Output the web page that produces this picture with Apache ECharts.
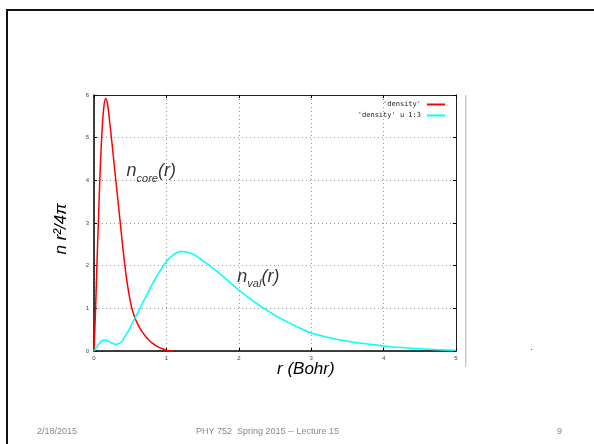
<!DOCTYPE html>
<html>
<head>
<meta charset="utf-8">
<script src="https://cdn.jsdelivr.net/npm/echarts@6/dist/echarts.min.js"></script>
<style>
  html, body { margin: 0; padding: 0; background: #fff; }
  #chart { width: 594px; height: 444px; }
</style>
</head>
<body>
<div id="chart"></div>
<script>
// r (Bohr) and n r^2/4pi for the core density
var rCore = [0, 0.02, 0.04, 0.06, 0.08, 0.10, 0.12, 0.14, 0.16, 0.18, 0.20, 0.22, 0.25, 0.28, 0.32, 0.36, 0.40, 0.44, 0.48, 0.52, 0.56, 0.60, 0.65, 0.70, 0.75, 0.80, 0.87, 0.95, 1.0, 1.1];
var nCore = [0, 0.9, 2.0, 3.0, 4.0, 4.8, 5.4, 5.78, 5.92, 5.85, 5.62, 5.32, 4.85, 4.35, 3.7, 3.05, 2.4, 1.82, 1.36, 1.02, 0.8, 0.64, 0.49, 0.37, 0.27, 0.19, 0.11, 0.05, 0.02, 0];
// valence density
var rVal = [0, 0.05, 0.1, 0.15, 0.2, 0.25, 0.3, 0.35, 0.4, 0.45, 0.5, 0.55, 0.6, 0.65, 0.7, 0.8, 0.9, 1.0, 1.1, 1.2, 1.3, 1.4, 1.5, 1.6, 1.8, 2.0, 2.2, 2.4, 2.6, 2.8, 3.0, 3.25, 3.5, 3.75, 4.0, 4.25, 4.5, 4.75, 5.0];
var nVal = [0, 0.12, 0.23, 0.26, 0.23, 0.18, 0.16, 0.18, 0.26, 0.4, 0.55, 0.72, 0.88, 1.05, 1.22, 1.55, 1.85, 2.1, 2.26, 2.33, 2.31, 2.24, 2.12, 2.0, 1.72, 1.43, 1.17, 0.94, 0.74, 0.57, 0.42, 0.31, 0.23, 0.17, 0.12, 0.08, 0.05, 0.03, 0.02];
var xTicks = [0, 1, 2, 3, 4, 5];
var yTicks = [0, 1, 2, 3, 4, 5, 6];
var legendNames = ["'density'", "'density' u 1:3"];

function pairs(xs, ys) {
    var out = [];
    for (var i = 0; i < xs.length; i++) out.push([xs[i], ys[i]]);
    return out;
}

var tickFont = { fontSize: 6, color: '#444', fontFamily: 'Liberation Sans' };
var gridLine = { show: true, lineStyle: { color: '#999', type: [1, 3], width: 1 } };

var myChart = echarts.init(document.getElementById('chart'));
var option = {
    animation: false,
    backgroundColor: '#fff',
    grid: { left: 94, top: 95, width: 362, height: 256 },
    legend: {
        right: 144, top: 96, orient: 'vertical', align: 'right',
        itemWidth: 18, itemHeight: 2, itemGap: 4, icon: 'rect',
        textStyle: { fontSize: 7, color: '#222', fontFamily: 'DejaVu Sans Mono', padding: [0, 1, 0, 0] },
        data: legendNames
    },
    xAxis: [{
        type: 'value', min: xTicks[0], max: xTicks[xTicks.length - 1], interval: 1,
        axisLine: { show: true, onZero: false, lineStyle: { color: '#000', width: 1.5 } },
        axisTick: { show: true, inside: true, length: 3, lineStyle: { color: '#000' } },
        axisLabel: Object.assign({ margin: 4 }, tickFont),
        splitLine: gridLine
    }, {
        type: 'value', position: 'top', min: xTicks[0], max: xTicks[xTicks.length - 1], interval: 1,
        axisLine: { show: true, onZero: false, lineStyle: { color: '#222', width: 1 } },
        axisTick: { show: true, inside: true, length: 3, lineStyle: { color: '#000' } },
        axisLabel: { show: false }, splitLine: { show: false }
    }],
    yAxis: [{
        type: 'value', min: yTicks[0], max: yTicks[yTicks.length - 1], interval: 1,
        name: 'n r²/4π', nameLocation: 'middle', nameGap: 24, nameRotate: 90,
        nameTextStyle: { fontSize: 17, fontStyle: 'italic', color: '#000', fontFamily: 'Liberation Sans', padding: [0, 0, 0, -12] },
        axisLine: { show: true, onZero: false, lineStyle: { color: '#000', width: 1.5 } },
        axisTick: { show: true, inside: true, length: 3, lineStyle: { color: '#000' } },
        axisLabel: Object.assign({ margin: 5 }, tickFont),
        splitLine: gridLine
    }, {
        type: 'value', position: 'right', min: yTicks[0], max: yTicks[yTicks.length - 1], interval: 1,
        axisLine: { show: true, onZero: false, lineStyle: { color: '#222', width: 1 } },
        axisTick: { show: true, inside: true, length: 3, lineStyle: { color: '#000' } },
        axisLabel: { show: false }, splitLine: { show: false }
    }],
    series: [{
        name: legendNames[0], type: 'line', smooth: 0.3, showSymbol: false,
        color: '#ff0000', lineStyle: { width: 1.5, color: '#ff0000' },
        data: pairs(rCore, nCore)
    }, {
        name: legendNames[1], type: 'line', smooth: 0.3, showSymbol: false,
        color: '#00ffff', lineStyle: { width: 1.5, color: '#00ffff' },
        data: pairs(rVal, nVal)
    }, {
        // curve labels placed in data coordinates
        type: 'scatter', symbolSize: 0, silent: true,
        label: {
            show: true, position: 'right', distance: 0,
            formatter: function (p) { return p.name; },
            rich: {
                n: { fontSize: 18, fontStyle: 'italic', color: '#000', fontFamily: 'Liberation Sans', verticalAlign: 'bottom', padding: [0, 0, 4, 0] },
                s: { fontSize: 11, fontStyle: 'italic', color: '#000', fontFamily: 'Liberation Sans', verticalAlign: 'bottom' }
            }
        },
        data: [
            { name: '{n|n}{s|core}{n|(r)}', value: [0.45, 4.17] },
            { name: '{n|n}{s|val}{n|(r)}', value: [1.98, 1.69] }
        ]
    }],
    graphic: [
        { type: 'rect', shape: { x: 6, y: 9, width: 600, height: 2 }, style: { fill: '#111' } },
        { type: 'rect', shape: { x: 6, y: 9, width: 2, height: 440 }, style: { fill: '#111' } },
        { type: 'rect', shape: { x: 465, y: 95, width: 1.5, height: 272 }, style: { fill: '#ccc' } },
        { type: 'rect', shape: { x: 531, y: 349, width: 1, height: 1 }, style: { fill: '#33f' } },
        { type: 'text', left: 277, top: 361, style: { text: 'r (Bohr)', fontSize: 17, fontStyle: 'italic', fill: '#000', fontFamily: 'Liberation Sans' } },
        { type: 'text', left: 37, top: 427, style: { text: '2/18/2015', fontSize: 9, fill: '#888', fontFamily: 'Liberation Sans' } },
        { type: 'text', left: 196, top: 427, style: { text: 'PHY 752  Spring 2015 -- Lecture 15', fontSize: 9, fill: '#888', fontFamily: 'Liberation Sans' } },
        { type: 'text', left: 557, top: 427, style: { text: '9', fontSize: 9, fill: '#888', fontFamily: 'Liberation Sans' } }
    ]
};
myChart.setOption(option);
</script>
</body>
</html>
